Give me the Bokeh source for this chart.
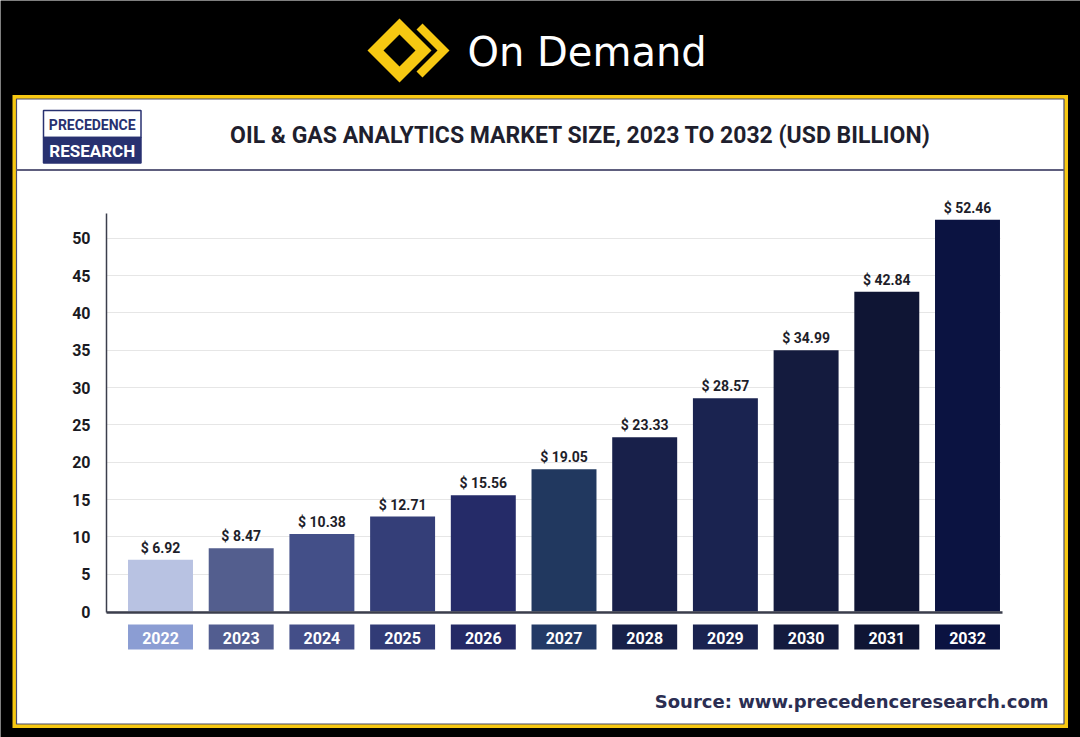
from bokeh.plotting import figure
from bokeh.models import (ColumnDataSource, LinearAxis, Grid, FixedTicker, Range1d)
from bokeh.core.properties import value
from bokeh.embed import file_html
from bokeh.resources import INLINE

# ---------------- data ----------------
years = ["2022", "2023", "2024", "2025", "2026", "2027",
         "2028", "2029", "2030", "2031", "2032"]
market_size = [6.92, 8.47, 10.38, 12.71, 15.56, 19.05,
               23.33, 28.57, 34.99, 42.84, 52.46]
y_ticks = [0, 5, 10, 15, 20, 25, 30, 35, 40, 45, 50]
title_text = "OIL & GAS ANALYTICS MARKET SIZE, 2023 TO 2032 (USD BILLION)"
source_text = "Source: www.precedenceresearch.com"
header_text = "On Demand"
logo_top = "PRECEDENCE"
logo_bottom = "RESEARCH"

# ---------------- styles ----------------
bar_colors = ["#b8c2e2", "#535e8e", "#434f88", "#343e78", "#252b68", "#21385f",
              "#18204a", "#1a2350", "#141b3e", "#0f1534", "#0b1341"]
box_colors = ["#8b9dd3", "#525d90", "#434e88", "#313b76", "#242a66", "#233a66",
              "#172048", "#1a2350", "#141b3e", "#0f1534", "#0b1341"]
YELLOW = "#f7c812"
NAVY = "#283170"
FONT = "Roboto"

W, H = 1080, 737
PPU = (611 - 237.7) / 50.0      # pixels per USD billion
PITCH = 80.7                    # pixels per category
C0, Y0PX = 160, 611             # pixel of first bar centre / value zero
BAR_W = 0.805

def dx(px):
    return (px - C0) / PITCH

def dy(py):
    return (Y0PX - py) / PPU

p = figure(width=W, height=H,
           x_range=Range1d(dx(0), dx(W)), y_range=Range1d(dy(H), dy(0)),
           x_axis_location=None, y_axis_location=None,
           output_backend="svg", toolbar_location=None, min_border=0)
p.extra_x_ranges = {"px": Range1d(0, W)}
p.extra_y_ranges = {"px": Range1d(H, 0)}
p.border_fill_color = "#000000"
p.background_fill_color = "#000000"
p.outline_line_color = None
for g in p.grid:
    g.visible = False

PX = dict(x_range_name="px", y_range_name="px", level="image")

# ---- card ----
p.quad(left=[12], right=[1067.5], top=[94.5], bottom=[727.5],
       fill_color=YELLOW, line_color=None, **PX)
p.quad(left=[16], right=[1063.5], top=[98.5], bottom=[723.5],
       fill_color="#ffffff", line_color="#4a4a6a", line_width=1.2, **PX)
p.quad(left=[16], right=[1063.5], top=[168.5], bottom=[170.5],
       fill_color="#5e5e7e", line_color=None, **PX)

# ---- header icon + text ----
p.patches(xs=[[367, 399, 431, 399], [416, 422, 449, 422, 416, 437]],
          ys=[[50, 18, 50, 82], [29, 23, 50, 77, 71, 50]],
          fill_color=YELLOW, line_color=None, **PX)
p.patch(x=[383, 399, 415, 399], y=[50, 34, 50, 66],
        fill_color="#000000", line_color=None, **PX)
p.text(x=[467], y=[51], text=[header_text], text_align="left",
       text_baseline="middle", text_font=value("DejaVu Sans"),
       text_font_size="40px", text_color="#ffffff", **PX)

# ---- logo ----
p.quad(left=[43], right=[140.5], top=[110], bottom=[137],
       fill_color="#ffffff", line_color=NAVY, line_width=1.5, **PX)
p.quad(left=[43], right=[140.5], top=[137], bottom=[162.5],
       fill_color=NAVY, line_color=NAVY, line_width=1.5, **PX)
p.text(x=[91.75], y=[124], text=[logo_top], text_align="center",
       text_baseline="middle", text_font=value(FONT), text_font_style="bold",
       text_font_size="14px", text_color=NAVY, **PX)
p.text(x=[91.75], y=[150.5], text=[logo_bottom], text_align="center",
       text_baseline="middle", text_font=value(FONT), text_font_style="bold",
       text_font_size="17px", text_color="#ffffff", **PX)

# ---- title & source ----
p.text(x=[580], y=[135], text=[title_text], text_align="center",
       text_baseline="middle", text_font=value(FONT), text_font_style="bold",
       text_font_size="23px", text_color="#1f1f2e", **PX)
p.text(x=[1048], y=[701], text=[source_text], text_align="right",
       text_baseline="middle", text_font=value("DejaVu Sans"),
       text_font_style="bold", text_font_size="18px", text_color="#2b2e52", **PX)

# ---- grid ----
Y_TOP = dy(213)
try:
    grid = Grid(dimension=1, ticker=FixedTicker(ticks=y_ticks),
                bounds=(0, 50), cross_bounds=(dx(106), dx(1000)),
                grid_line_color="#e6e6e6", grid_line_width=1.2)
    p.add_layout(grid)
except Exception:
    p.segment(x0=[dx(106)] * len(y_ticks), x1=[dx(1000)] * len(y_ticks),
              y0=y_ticks, y1=y_ticks, line_color="#e6e6e6", line_width=1.2,
              level="underlay")

# ---- bars ----
idx = list(range(len(years)))
src = ColumnDataSource(dict(
    x=idx, value=market_size, color=bar_colors, box_color=box_colors,
    year=years, label=[f"$ {v:.2f}" for v in market_size],
    left=[i - BAR_W / 2 for i in idx], right=[i + BAR_W / 2 for i in idx]))
p.vbar(x="x", top="value", bottom=0, width=BAR_W, fill_color="color",
       line_color=None, source=src)
p.text(x="x", y="value", text="label", y_offset=-12, text_align="center",
       text_baseline="middle", text_font=value(FONT), text_font_style="bold",
       text_font_size="14px", text_color="#1e1e2a", source=src)

# ---- year boxes (below the axis) ----
p.quad(left="left", right="right", top=624, bottom=649, fill_color="box_color",
       line_color=None, source=src, y_range_name="px")
p.text(x="x", y=637, text="year", text_align="center", text_baseline="middle",
       text_font=value(FONT), text_font_style="bold", text_font_size="16px",
       text_color="#ffffff", source=src, y_range_name="px")

# ---- axes ----
yaxis = LinearAxis(ticker=FixedTicker(ticks=y_ticks), fixed_location=dx(106),
                   bounds=(-0.2, Y_TOP))
yaxis.axis_line_color = "#3b3e4c"
yaxis.axis_line_width = 1.5
yaxis.major_tick_line_color = None
yaxis.minor_tick_line_color = None
yaxis.major_label_standoff = 10
yaxis.major_label_text_font = FONT
yaxis.major_label_text_font_style = "bold"
yaxis.major_label_text_font_size = "16px"
yaxis.major_label_text_color = "#1a1a22"
p.add_layout(yaxis, "left")

xaxis = LinearAxis(ticker=FixedTicker(ticks=[]), fixed_location=-0.2,
                   bounds=(dx(106), dx(1002)))
xaxis.axis_line_color = "#3b3e4c"
xaxis.axis_line_width = 2.5
xaxis.major_tick_line_color = None
xaxis.minor_tick_line_color = None
xaxis.major_label_text_alpha = 0
p.add_layout(xaxis, "below")

html = file_html(p, INLINE)
html = html.replace("<body>", '<body style="background:#000000;">', 1)
open("out.html", "w").write(html)
